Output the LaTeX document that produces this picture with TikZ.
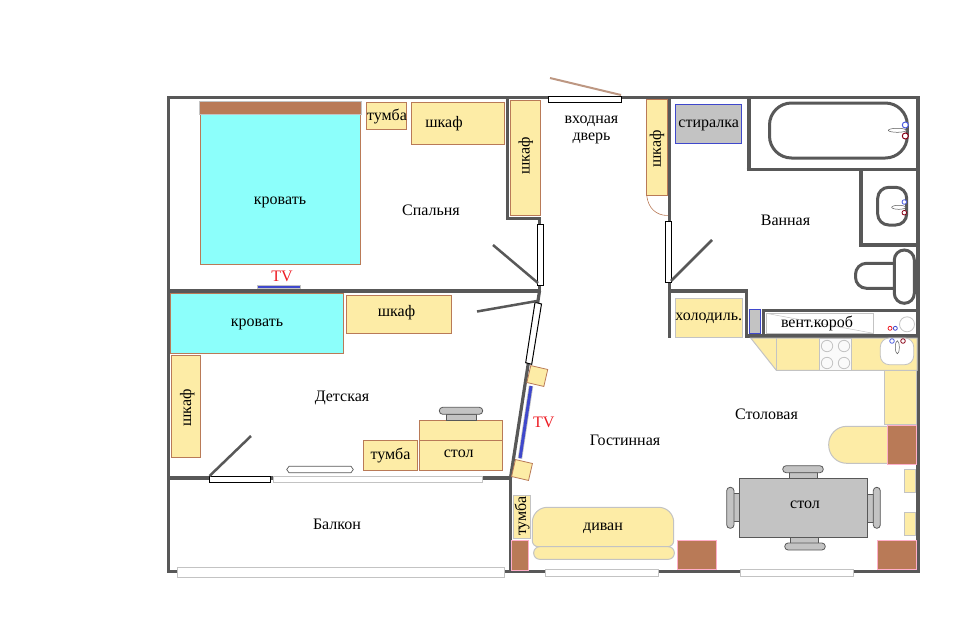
\documentclass[tikz,border=0pt]{standalone}
\usepackage{fontspec}
\setmainfont{Liberation Serif}
\usepackage{tikz}
\usetikzlibrary{shapes.geometric, arrows.meta, calc}
\definecolor{wallgray}{HTML}{585858}
\definecolor{furnyellow}{HTML}{FDECA6}
\definecolor{furnbrown}{HTML}{B97A57}
\definecolor{bedcyan}{HTML}{8CFFFB}
\definecolor{tvblue}{HTML}{3F48CC}
\definecolor{lightgray}{HTML}{C3C3C3}
\definecolor{cabpink}{HTML}{FFAEC9}
\definecolor{tvred}{HTML}{ED1C24}
\definecolor{tapred}{HTML}{880015}
\definecolor{tapblue}{HTML}{4D5DE0}
\tikzstyle{wall} = [draw=wallgray, line width=3.2pt, line cap=butt]
\tikzstyle{leaf} = [draw=wallgray, line width=2.5pt]
\tikzstyle{door} = [draw=black, fill=white, line width=1pt]
\tikzstyle{window} = [draw=lightgray, fill=white, line width=1pt]
\tikzstyle{furn} = [draw=furnbrown, fill=furnyellow, line width=.8pt]
\tikzstyle{kitchen} = [draw=lightgray, fill=furnyellow, line width=1pt]
\tikzstyle{bed} = [draw=furnbrown, fill=bedcyan, line width=.8pt]
\tikzstyle{cabinet} = [draw=cabpink, fill=furnbrown, line width=1pt]
\tikzstyle{grayfurn} = [draw=tvblue, fill=lightgray, line width=.8pt]
\tikzstyle{chair} = [draw=wallgray, fill=lightgray, line width=.8pt]
\tikzstyle{plumb} = [draw=wallgray, line width=3pt]
\tikzstyle{vlabel} = [font=\fontsize{16}{18}\selectfont, inner sep=0pt, rotate=90]
\tikzstyle{label} = [font=\fontsize{16}{18}\selectfont, inner sep=0pt, anchor=base]
\begin{document}
\begin{tikzpicture}[x=1pt, y=-1pt]
    \useasboundingbox (0,0) rectangle (960,624);
    % walls
    \draw[wall, line join=miter] (168.6,97.6) -- (918,97.6) -- (918,571.8) -- (168.6,571.8) -- cycle;
    \draw[wall] (168.6,291) -- (541,291);
    \draw[wall, line join=miter] (507.5,97.6) -- (507.5,218.3) -- (539.5,218.3) -- (539.5,291);
    \draw[wall] (539.5,291) -- (510.5,478);
    \draw[wall] (168.6,478) -- (512,478);
    \draw[wall] (510.5,478) -- (510.5,571.8);
    \draw[wall] (669.7,97.6) -- (669.7,338);
    \draw[wall, line join=miter] (669.7,291) -- (746.5,291) -- (746.5,338);
    \draw[wall, line width=4.5pt] (748.8,97.6) -- (748.8,171);
    \draw[wall, line width=3pt] (746.5,169.7) -- (918,169.7);
    \draw[wall] (861,169.7) -- (861,245) -- (918,245);
    \draw[wall] (761.5,310.7) -- (918,310.7);
    \draw[wall] (763.3,310.7) -- (763.3,336);
    \draw[wall, line width=3.5pt] (745,336) -- (918,336);
    % doors
    \draw[door] (548,96) rectangle (621,102);
    \draw[draw=furnbrown!60!lightgray, line width=2pt] (550,78) -- (621,95);
    \draw[door] (537.5,224) rectangle (543.5,285.5);
    \draw[leaf] (493,245) -- (538,283);
    \draw[door] (665.7,221) rectangle (671.7,282);
    \draw[leaf] (712,240) -- (671,281);
    \draw[door] (535,302.3) -- (541.5,304) -- (531.7,364.3) -- (525.7,362.7) -- cycle;
    \draw[leaf] (477,311.5) -- (537,301);
    \draw[door] (209.3,476.3) rectangle (270.7,482.3);
    \draw[leaf] (209.5,476) -- (251,436);
    % windows
    \draw[window] (273.3,476.7) rectangle (482.7,482.3);
    \draw[window] (177.3,567.7) rectangle (504.7,577.3);
    \draw[window] (545.3,569.3) rectangle (658.7,576);
    \draw[window] (740.3,569.3) rectangle (853.7,576);
    \draw[draw=wallgray, fill=white, line width=.7pt] (289,466.3) -- (351,466.3) -- (353.3,469.5) -- (351,472.7) -- (289,472.7) -- (286.7,469.5) -- cycle;
    % bedroom
    \draw[bed] (200.3,114) rectangle (360.7,264.3);
    \draw[draw=lightgray, fill=furnbrown, line width=.8pt] (199.3,101.7) rectangle (361.7,114.3);
    \draw[furn] (366.3,102.3) rectangle (406.7,129.3);
    \draw[furn] (411.3,102.3) rectangle (504.3,144.3);
    \draw[furn] (510.3,100.3) rectangle (540.7,215.7);
    \draw[draw=lightgray, fill=tvblue, line width=.8pt] (257.3,285.2) rectangle (300.7,288.5);
    % hall
    \draw[furn] (646.7,99.3) rectangle (667.7,195.3);
    \draw[draw=furnbrown, line width=.6pt] (646.7,195.3) .. controls (648,208) and (656,215.5) .. (667.7,215.5);
    % bathroom
    \draw[grayfurn] (675.3,104.3) rectangle (741.7,143.3);
    \draw[plumb, rounded corners=22pt] (769.5,103) rectangle (907.3,158);
    \draw[draw=wallgray, fill=white, line width=.5pt] (897.3,130.3) ellipse (9 and 2);
    \draw[draw=tapblue, fill=white, line width=1pt] (905.3,125) circle (3);
    \draw[draw=tapred, fill=white, line width=1pt] (905.3,136) circle (3);
    \draw[plumb, rounded corners=11pt] (877.7,187.3) rectangle (906.7,225);
    \draw[draw=wallgray, fill=white, line width=.5pt] (898.7,207.3) ellipse (7 and 2);
    \draw[draw=tapblue, fill=white, line width=.8pt] (904.3,202) circle (2.3);
    \draw[draw=tapred, fill=white, line width=.8pt] (904.3,212.7) circle (2.3);
    \draw[plumb, rounded corners=11pt] (894,263.3) -- (855.5,263.3) -- (855.5,288.3) -- (894,288.3);
    \draw[plumb, rounded corners=10pt] (894.3,250) rectangle (914.3,303.3);
    % fridge and duct
    \draw[kitchen] (675.3,298.3) rectangle (742.7,337.7);
    \draw[grayfurn] (749.3,309.3) rectangle (760.7,333.3);
    \draw[draw=lightgray, fill=white, line width=.8pt] (766,313.3) rectangle (873.3,333.3);
    \draw[draw=lightgray, line width=.5pt] (766,313.3) -- (873.3,333.3);
    \draw[draw=lightgray, line width=.8pt] (907,324.3) circle (7.5);
    \draw[draw=tvred, line width=.8pt] (890,328.3) circle (2);
    \draw[draw=tvblue, line width=.8pt] (895.3,328.3) circle (2);
    % kitchen
    \draw[kitchen] (750.7,338) -- (917,338) -- (917,370.3) -- (776.3,370.3) -- cycle;
    \draw[draw=lightgray, line width=1pt] (776.3,338) -- (776.3,370.3);
    \draw[draw=lightgray, fill=white!96!gray, line width=.8pt] (819.3,338) rectangle (851.3,370.3);
    \foreach \bx/\by in {827/346, 844/346, 827/363, 844/363} {
        \draw[draw=lightgray, line width=.8pt] (\bx,\by) circle (5.7);
    }
    \draw[draw=lightgray, fill=white, line width=.8pt, rounded corners=9pt] (880.3,338) rectangle (913.7,364.7);
    \draw[draw=wallgray, fill=white, line width=.5pt] (897.3,347.3) ellipse (2 and 6.5);
    \draw[draw=tapblue, line width=.8pt] (892,341) circle (2.3);
    \draw[draw=tapred, line width=.8pt] (903,341) circle (2.3);
    \draw[kitchen] (884.7,370.3) rectangle (916.3,424.3);
    \draw[kitchen, rounded corners=18pt] (887.3,426.3) -- (828.7,426.3) -- (828.7,463.3) -- (887.3,463.3);
    \draw[cabinet] (887.3,425.3) rectangle (916.7,464.3);
    \draw[kitchen] (904.7,469.3) rectangle (915.7,492.3);
    \draw[kitchen] (904.7,512.3) rectangle (915.7,535.3);
    \draw[cabinet] (877.3,540.3) rectangle (916.7,569.3);
    % dining table
    \draw[chair] (789.3,472.3) rectangle (817.7,478.3);
    \draw[chair, rounded corners=3.4pt] (782.7,465.7) rectangle (823.3,472.7);
    \draw[chair] (790.3,537.3) rectangle (818.3,543.3);
    \draw[chair, rounded corners=3.4pt] (784.7,543) rectangle (825.3,550);
    \draw[chair] (733.3,493.3) rectangle (739.3,521.7);
    \draw[chair, rounded corners=3.4pt] (726.7,487.3) rectangle (734,528.3);
    \draw[chair] (867.3,494.3) rectangle (873.3,522.7);
    \draw[chair, rounded corners=3.4pt] (873.3,487.3) rectangle (880.3,528.3);
    \draw[draw=wallgray, fill=lightgray, line width=1pt] (739.3,478.3) rectangle (867.3,537.3);
    % living room
    \draw[kitchen, rounded corners=6pt] (532.3,546.7) [rounded corners=15pt] -- (532.3,507.3) -- (673.7,507.3) [rounded corners=6pt] -- (673.7,546.7) -- cycle;
    \draw[kitchen, rounded corners=6pt] (533.7,546.7) rectangle (674.3,559.3);
    \draw[cabinet] (677.3,540.3) rectangle (716.7,569.3);
    \draw[cabinet] (511.3,540.3) rectangle (528.7,570.7);
    \draw[kitchen] (513.3,495.3) rectangle (530.7,538.3);
    \draw[furn, rotate around={-13:(537.3,376)}] (528.6,367.3) rectangle (546,384.7);
    \draw[furn, rotate around={-13:(522,470)}] (513.3,461.3) rectangle (530.7,478.7);
    \draw[draw=lightgray, line width=4.5pt] (531,386) -- (520,458.3);
    \draw[draw=tvblue, line width=3pt] (531,386) -- (520,458.3);
    % nursery
    \draw[bed] (170.3,293.3) rectangle (343.7,353.3);
    \draw[furn] (346,295.3) rectangle (451.7,333.3);
    \draw[furn] (171.3,355.3) rectangle (200.7,457.7);
    \draw[furn] (363.3,440.3) rectangle (417.7,470.3);
    \draw[furn] (419.3,420.3) rectangle (502.7,470.3);
    \draw[furn] (419.3,440.3) -- (502.7,440.3);
    \draw[chair] (446.7,414.3) rectangle (476.7,420);
    \draw[chair, rounded corners=3.4pt] (439.3,407.3) rectangle (482.7,414.3);
    % labels
    \node[label] (bedA) at (280,204) {кровать};
    \node[label] (bedroom) at (431,215) {Спальня};
    \node[label, text=tvred] (tvA) at (282,281.7) {TV};
    \node[label] (nightA) at (387,120) {тумба};
    \node[label] (closetA) at (444,127.3) {шкаф};
    \node[vlabel] (closetB) at (525.7,156) {шкаф};
    \node[label] (entryA) at (591.5,123.3) {входная};
    \node[label] (entryB) at (591.5,140) {дверь};
    \node[vlabel] (closetC) at (657,149) {шкаф};
    \node[label] (washer) at (708.7,127.3) {стиралка};
    \node[label] (bathroom) at (785.5,225) {Ванная};
    \node[label] (fridge) at (708.7,320.7) {холодиль.};
    \node[label] (duct) at (817,327.3) {вент.короб};
    \node[label] (bedB) at (257,326.7) {кровать};
    \node[label] (closetD) at (396.5,316.7) {шкаф};
    \node[vlabel] (closetE) at (187.3,407.7) {шкаф};
    \node[label] (nursery) at (342,401.7) {Детская};
    \node[label] (nightB) at (390.5,459) {тумба};
    \node[label] (deskA) at (458.7,457.7) {стол};
    \node[label, text=tvred] (tvB) at (543.7,427.7) {TV};
    \node[label] (balcony) at (337,529) {Балкон};
    \node[label] (living) at (625,445) {Гостинная};
    \node[label] (dining) at (766.5,419) {Столовая};
    \node[vlabel] (nightC) at (522,516) {тумба};
    \node[label] (sofa) at (603,530) {диван};
    \node[label] (deskB) at (805,508.3) {стол};
\end{tikzpicture}
\end{document}
